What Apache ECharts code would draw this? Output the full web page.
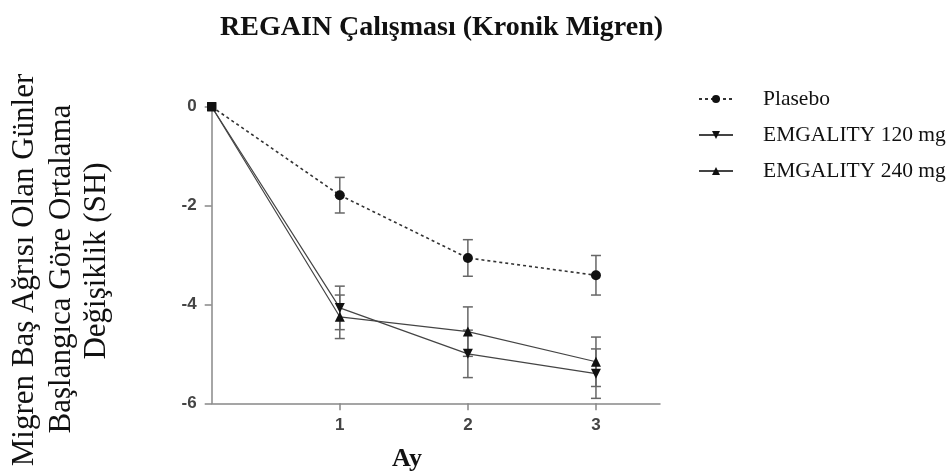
<!DOCTYPE html>
<html>
<head>
<meta charset="utf-8">
<style>
	html,body{ margin:0; padding:0; background:#fff;}
	#main{ width:949px; height:475px;}
</style>
</head>
<body>
<div id="main"></div>
<script src="https://cdn.jsdelivr.net/npm/echarts@6/dist/echarts.min.js"></script>
<script>
// aylar ve değerler
var months = [0, 1, 2, 3];
var plasebo = [0, -1.79, -3.06, -3.41];
var plaseboSH = [0, 0.36, 0.37, 0.40];
var emg120 = [0, -4.07, -5.00, -5.40];
var emg120SH = [0, 0.44, 0.48, 0.50];
var emg240 = [0, -4.25, -4.55, -5.16];
var emg240SH = [0, 0.44, 0.50, 0.50];
var yTicks = [0, -2, -4, -6];
var xTicks = [1, 2, 3];
var names = ['Plasebo', 'EMGALITY 120 mg', 'EMGALITY 240 mg'];

var serif = 'Liberation Serif';
var sans = 'Liberation Sans';

var pts = function(vals){
	var out = [];
	for(var i in months){
		out.push([months[i], vals[i]]);
	}
	return out;
};
var errPts = function(vals, se){
	var out = [];
	for(var i in months){
		if(!se[i]) continue;
		out.push([months[i], vals[i] - se[i], vals[i] + se[i]]);
	}
	return out;
};
var firstRect = function(data){
	data[0] = {value: data[0], symbol: 'rect', symbolSize: 9};
	return data;
};

var errSeries = function(vals, se){
	return {
		type: 'custom',
		silent: true,
		z: 1,
		data: errPts(vals, se),
		renderItem: function(params, api){
			var x = api.value(0);
			var p1 = api.coord([x, api.value(2)]);
			var p2 = api.coord([x, api.value(1)]);
			var st = {stroke: '#666', lineWidth: 1.5};
			var w = 5;
			return {
				type: 'group',
				children: [
					{type: 'line', shape: {x1: p1[0], y1: p1[1], x2: p2[0], y2: p2[1]}, style: st},
					{type: 'line', shape: {x1: p1[0]-w, y1: p1[1], x2: p1[0]+w, y2: p1[1]}, style: st},
					{type: 'line', shape: {x1: p2[0]-w, y1: p2[1], x2: p2[0]+w, y2: p2[1]}, style: st}
				]
			};
		}
	};
};

var yName = function(txt, x, y){
	return {type: 'text', x: x, y: y, rotation: Math.PI/2, style: {text: txt, font: '31px "Liberation Serif"', fill: '#111', align: 'center', verticalAlign: 'middle'}};
};

var myChart = echarts.init(document.getElementById('main'));
var option = {
	backgroundColor: '#fff',
	animation: false,
	title: {
		text: 'REGAIN Çalışması (Kronik Migren)',
		left: 215,
		top: 9,
		textStyle: {fontFamily: serif, fontWeight: 'bold', fontSize: 28, color: '#111'}
	},
	legend: {
		orient: 'vertical',
		left: 693,
		top: 83,
		itemWidth: 34,
		itemHeight: 10,
		itemGap: 14,
		data: names,
		textStyle: {fontFamily: serif, fontSize: 21.5, lineHeight: 22, color: '#111', padding: [0, 0, 0, 25]}
	},
	grid: {left: 211.7, right: 289, top: 106.7, bottom: 71.7, containLabel: false},
	xAxis: {
		type: 'value',
		min: 0,
		max: 3.5,
		interval: 1,
		splitLine: {show: false},
		axisLine: {onZero: false, lineStyle: {color: '#888', width: 1.5}},
		axisTick: {show: true, length: 7, customValues: xTicks, lineStyle: {color: '#888', width: 1.5}},
		axisLabel: {customValues: xTicks, margin: 14, fontFamily: sans, fontWeight: 'bold', fontSize: 17, color: '#444'}
	},
	yAxis: {
		type: 'value',
		min: -6,
		max: 0,
		interval: 2,
		splitLine: {show: false},
		axisLine: {show: true, onZero: false, lineStyle: {color: '#888', width: 1.5}},
		axisTick: {show: true, length: 7, customValues: yTicks, lineStyle: {color: '#888', width: 1.5}},
		axisLabel: {customValues: yTicks, margin: 15, fontFamily: sans, fontWeight: 'bold', fontSize: 17, color: '#444'}
	},
	graphic: [
		yName('Migren Baş Ağrısı Olan Günler', 25, 270),
		yName('Başlangıca Göre Ortalama', 62, 269),
		yName('Değişiklik (SH)', 97, 261),
		{type: 'text', x: 407, y: 459, style: {text: 'Ay', font: 'bold 26px "Liberation Serif"', fill: '#111', align: 'center', verticalAlign: 'middle'}}
	],
	series: [
		errSeries(plasebo, plaseboSH),
		errSeries(emg120, emg120SH),
		errSeries(emg240, emg240SH),
		{
			name: names[0], type: 'line', z: 3,
			data: firstRect(pts(plasebo)),
			symbol: 'circle', symbolSize: 10,
			itemStyle: {color: '#111'},
			lineStyle: {color: '#333', width: 1.6, type: [3, 3]}
		},
		{
			name: names[1], type: 'line', z: 3,
			data: firstRect(pts(emg120)),
			symbol: 'triangle', symbolSize: 10, symbolRotate: 180,
			itemStyle: {color: '#111'},
			lineStyle: {color: '#444', width: 1.2}
		},
		{
			name: names[2], type: 'line', z: 3,
			data: firstRect(pts(emg240)),
			symbol: 'triangle', symbolSize: 10,
			itemStyle: {color: '#111'},
			lineStyle: {color: '#444', width: 1.2}
		}
	]
};
myChart.setOption(option);
</script>
</body>
</html>
